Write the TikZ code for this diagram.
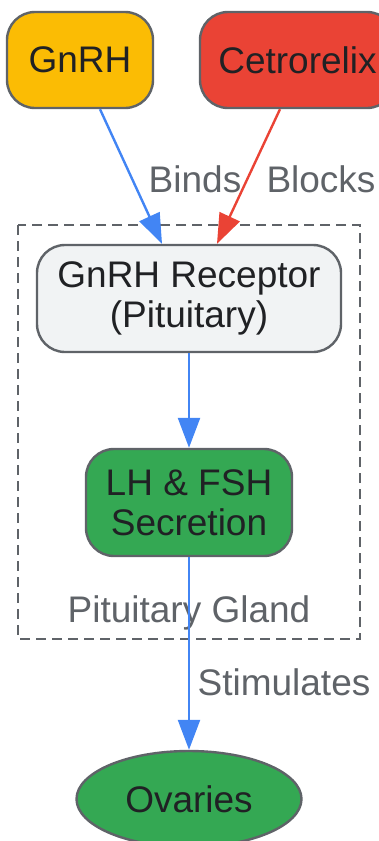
\documentclass[tikz,border=0pt]{standalone}
\usepackage{fontspec}
\setmainfont{Liberation Sans}
\usetikzlibrary{arrows.meta,shapes.geometric,calc}
\definecolor{bordergray}{HTML}{5F6368}
\definecolor{textdark}{HTML}{202124}
\definecolor{gyellow}{HTML}{FBBC04}
\definecolor{gred}{HTML}{EA4335}
\definecolor{ggreen}{HTML}{34A853}
\definecolor{glight}{HTML}{F1F3F4}
\definecolor{gblue}{HTML}{4285F4}
\tikzset{
  box/.style={draw=bordergray, line width=2.4pt, rounded corners=28pt, text=textdark,
    font=\fontsize{37}{40}\selectfont, align=center, inner sep=0pt},
  oval/.style={ellipse, draw=bordergray, line width=2.4pt, text=textdark,
    font=\fontsize{37}{40}\selectfont, inner sep=0pt},
  lbl/.style={text=bordergray, font=\fontsize{37}{40}\selectfont, anchor=base, inner sep=0pt},
  conn/.style={line width=2.4pt, -{Triangle[length=30pt,width=22pt]}},
  group/.style={draw=bordergray, line width=2.4pt, dash pattern=on 10pt off 6pt}
}
\begin{document}
\begin{tikzpicture}[x=1pt,y=-1pt]
\useasboundingbox (0,0) rectangle (379,841);
\begin{scope}
\clip (0,0) rectangle (379,841);
\draw[group] (18,225) rectangle (360,639);
\node[lbl] (pg) at (189,622) {Pituitary Gland};

\node[box, fill=gyellow, minimum width=146pt, minimum height=96pt] (gnrh) at (80,60) {GnRH};
\node[box, fill=gred, minimum width=195pt, minimum height=96pt] (cet) at (297.5,60) {Cetrorelix};
\node[box, fill=glight, minimum width=304pt, minimum height=107pt] (rec) at (189,298.5) {GnRH Receptor\\(Pituitary)};
\node[box, fill=ggreen, minimum width=206pt, minimum height=107pt] (lh) at (189,502.5) {LH \& FSH\\Secretion};
\node[oval, fill=ggreen, minimum width=225pt, minimum height=96pt] (ov) at (189,799) {Ovaries};

\draw[conn, gblue] ([xshift=20pt]gnrh.south) -- ([xshift=-27pt]rec.north);
\draw[conn, gred] ([xshift=-17.5pt]cet.south) -- ([xshift=28pt]rec.north);
\draw[conn, gblue] (rec.south) -- (lh.north);
\draw[conn, gblue] (lh.south) -- (ov.north);

\node[lbl] (binds) at (195,192) {Binds};
\node[lbl] (blocks) at (321,192) {Blocks};
\node[lbl] (stim) at (284,695) {Stimulates};
\end{scope}
\end{tikzpicture}
\end{document}
